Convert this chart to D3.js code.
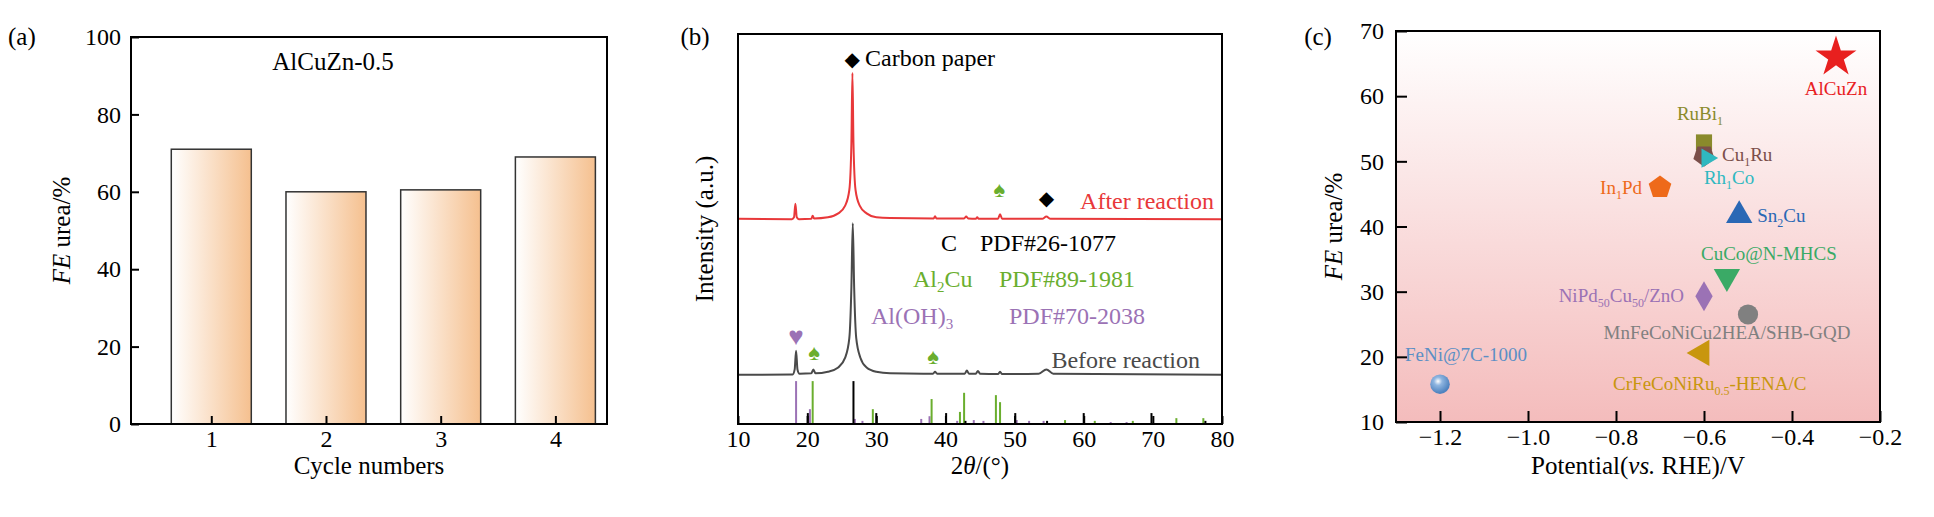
<!DOCTYPE html>
<html>
<head>
<meta charset="utf-8">
<script src="https://d3js.org/d3.v7.min.js"></script>
<style>
  body { margin: 0; background: #fff; }
  text { font-family: "Liberation Serif", "DejaVu Serif", serif; }
</style>
</head>
<body>
<svg width="1934" height="517"></svg>
<script>
// ---- panel (a) data
var cycles = [1, 2, 3, 4];
var cycleFE = [71, 60, 60.5, 69];

var afterReaction = [[10,52.6],[17.8,52.5],[18.1,53],[18.3,56.5],[18.5,53],[18.8,52.5],[20.6,52.6],[20.8,53.4],[21,52.7],[23,53],[24.5,54],[25.5,56],[26.1,60],[26.4,72],[26.55,90],[26.7,72],[27,60],[27.6,56],[28.6,54],[30,53],[32,52.8],[38.3,52.7],[38.5,53.3],[38.7,52.7],[42.7,52.7],[43,53.2],[43.3,52.7],[44.4,52.6],[44.6,53],[44.8,52.6],[47.6,52.6],[47.9,53.8],[48.2,52.6],[54,52.6],[54.6,53.2],[55.2,52.6],[80,52.5]];
var beforeReaction = [[10,12.6],[17.9,12.7],[18.2,14],[18.4,18.8],[18.6,14],[18.9,12.9],[20.6,13],[20.9,14],[21.2,13],[23,13.4],[24.5,14.5],[25.5,17],[26.1,22],[26.4,35],[26.6,51.5],[26.8,35],[27.1,22],[27.7,17],[28.6,14.5],[30,13.4],[32,13],[38.2,12.9],[38.5,13.4],[38.8,12.9],[42.8,12.9],[43.1,13.7],[43.4,12.9],[44.4,12.9],[44.7,13.6],[45,12.9],[47.6,12.8],[47.9,13.4],[48.2,12.8],[53.5,12.9],[54.6,14],[55.6,12.9],[80,12.6]];
// reference sticks [2theta, height]
var pdfC = [[20.1,2.8],[26.7,11],[30.0,2.8],[40.1,2.8],[42.9,0.8],[50.1,2.8],[54.7,0.8],[60.0,2.8],[69.8,2.8],[77.6,0.8]];
var pdfAl2Cu = [[20.8,11],[29.5,3.8],[38.0,6.4],[42.1,3.1],[42.7,8],[47.3,7.4],[47.9,5.6],[57.3,1],[61.6,0.8],[67.1,0.8],[73.4,1.5],[77.3,1.5]];
var pdfAlOH3 = [[18.4,11],[20.4,3.8],[26.9,1.3],[28.0,0.8],[36.5,1.3],[37.7,2],[41.7,0.8],[44.1,1],[45.5,0.8],[50.3,1],[52.1,0.8],[54.2,0.8],[63.9,0.5],[66.2,0.5]];

// ---- panel (c) data
var catalysts = ["AlCuZn","RuBi1","Cu1Ru","Rh1Co","In1Pd","Sn2Cu","CuCo@N-MHCS","NiPd50Cu50/ZnO","MnFeCoNiCu2HEA/SHB-GQD","CrFeCoNiRu0.5-HENA/C","FeNi@7C-1000"];
var potentials = [-0.30, -0.60, -0.60, -0.593, -0.70, -0.52, -0.548, -0.60, -0.50, -0.605, -1.20];
var feUrea = [66, 52.9, 50.9, 50.5, 46.0, 41.7, 32.3, 29.3, 26.5, 20.6, 15.8];

var svg = d3.select("svg");
var defs = svg.append("defs");
var FONT = 24;

function frame(g, x0, y0, x1, y1) {
  g.append("rect").attr("x", x0).attr("y", y0).attr("width", x1 - x0).attr("height", y1 - y0)
    .attr("fill", "none").attr("stroke", "#000").attr("stroke-width", 2);
}
function styleAxis(ax) {
  ax.selectAll("path").remove();
  ax.selectAll("line").attr("stroke", "#000").attr("stroke-width", 2);
  ax.selectAll("text").attr("font-size", FONT).attr("font-family", "Liberation Serif").attr("fill", "#000");
}

// ================= (a)
(function () {
  var L = 131, R = 607, T = 37, B = 424;
  var x = d3.scaleLinear().domain([0.3, 4.45]).range([L, R]);
  var y = d3.scaleLinear().domain([0, 100]).range([B, T]);
  var grad = defs.append("linearGradient").attr("id", "barGrad");
  grad.append("stop").attr("offset", "0%").attr("stop-color", "#ffffff");
  grad.append("stop").attr("offset", "100%").attr("stop-color", "#f5c08f");
  var g = svg.append("g");
  g.selectAll("rect.bar").data(cycles).enter().append("rect").attr("class", "bar")
    .attr("x", function (d) { return x(d) - 40; })
    .attr("width", 80)
    .attr("y", function (d, i) { return y(cycleFE[i]); })
    .attr("height", function (d, i) { return B - y(cycleFE[i]); })
    .attr("fill", "url(#barGrad)").attr("stroke", "#333").attr("stroke-width", 1.5);
  var ax = g.append("g").attr("transform", "translate(0," + B + ")")
    .call(d3.axisBottom(x).tickValues(cycles).tickFormat(d3.format("d")).tickSizeInner(-8).tickSizeOuter(0).tickPadding(6));
  styleAxis(ax);
  var ay = g.append("g").attr("transform", "translate(" + L + ",0)")
    .call(d3.axisLeft(y).tickValues([0, 20, 40, 60, 80, 100]).tickSizeInner(-8).tickSizeOuter(0).tickPadding(10));
  styleAxis(ay);
  frame(g, L, T, R, B);
  g.append("text").attr("x", 333).attr("y", 70).attr("text-anchor", "middle").attr("font-size", 25).text("AlCuZn-0.5");
  g.append("text").attr("x", 8).attr("y", 45).attr("font-size", 25).text("(a)");
  g.append("text").attr("x", (L + R) / 2).attr("y", 474).attr("text-anchor", "middle").attr("font-size", 25).text("Cycle numbers");
  var yl = g.append("text").attr("transform", "translate(70," + (T + B) / 2 + ") rotate(-90)")
    .attr("text-anchor", "middle").attr("font-size", 25);
  yl.append("tspan").attr("font-style", "italic").text("FE");
  yl.append("tspan").text(" urea/%");
})();

// ================= (b)
(function () {
  var L = 738, R = 1222, T = 34, B = 424;
  var x = d3.scaleLinear().domain([10, 80]).range([L, R]);
  var y = d3.scaleLinear().domain([0, 100]).range([B, T]);
  var g = svg.append("g");
  var line = d3.line().x(function (d) { return x(d[0]); }).y(function (d) { return y(d[1]); }).curve(d3.curveMonotoneX);
  g.append("path").datum(afterReaction).attr("d", line).attr("fill", "none").attr("stroke", "#e8383a").attr("stroke-width", 2);
  g.append("path").datum(beforeReaction).attr("d", line).attr("fill", "none").attr("stroke", "#4a4a4a").attr("stroke-width", 2);
  function sticks(data, color) {
    g.selectAll(null).data(data).enter().append("line")
      .attr("x1", function (d) { return x(d[0]); }).attr("x2", function (d) { return x(d[0]); })
      .attr("y1", y(0)).attr("y2", function (d) { return y(d[1]); })
      .attr("stroke", color).attr("stroke-width", 2);
  }
  sticks(pdfAlOH3, "#9b72b5");
  sticks(pdfAl2Cu, "#6aae2e");
  sticks(pdfC, "#000");
  var ax = g.append("g").attr("transform", "translate(0," + B + ")")
    .call(d3.axisBottom(x).tickValues(d3.range(10, 81, 10)).tickSizeInner(-8).tickSizeOuter(0).tickPadding(6));
  styleAxis(ax);
  frame(g, L, T, R, B);

  function mark(sym, px, py, color, size) {
    g.append("text").attr("x", px).attr("y", py).attr("text-anchor", "middle")
      .attr("font-family", "DejaVu Sans").attr("font-size", size).attr("fill", color).text(sym);
  }
  mark("\u25C6", x(26.5), 66, "#000", 20);
  g.append("text").attr("x", x(26.5) + 13).attr("y", 66).attr("font-size", 24).text("Carbon paper");
  mark("\u2660", x(47.8), 197, "#6aae2e", 22);
  mark("\u25C6", x(54.6), 205, "#000", 20);
  mark("\u2665", x(18.4), 345, "#9b72b5", 26);
  mark("\u2660", x(21), 360, "#6aae2e", 22);
  mark("\u2660", x(38.2), 364, "#6aae2e", 22);

  g.append("text").attr("x", 1214).attr("y", 209).attr("text-anchor", "end").attr("font-size", 24).attr("fill", "#e8383a").text("After reaction");
  g.append("text").attr("x", 1200).attr("y", 368).attr("text-anchor", "end").attr("font-size", 24).attr("fill", "#4a4a4a").text("Before reaction");

  g.append("text").attr("x", 941).attr("y", 251).attr("font-size", 24).text("C");
  g.append("text").attr("x", 980).attr("y", 251).attr("font-size", 24).text("PDF#26-1077");
  var t2 = g.append("text").attr("x", 913).attr("y", 287).attr("font-size", 24).attr("fill", "#6aae2e");
  t2.append("tspan").text("Al");
  t2.append("tspan").attr("font-size", 15).attr("dy", 5).text("2");
  t2.append("tspan").attr("dy", -5).text("Cu");
  g.append("text").attr("x", 999).attr("y", 287).attr("font-size", 24).attr("fill", "#6aae2e").text("PDF#89-1981");
  var t3 = g.append("text").attr("x", 871).attr("y", 324).attr("font-size", 24).attr("fill", "#9b72b5");
  t3.append("tspan").text("Al(OH)");
  t3.append("tspan").attr("font-size", 15).attr("dy", 5).text("3");
  g.append("text").attr("x", 1009).attr("y", 324).attr("font-size", 24).attr("fill", "#9b72b5").text("PDF#70-2038");

  g.append("text").attr("x", 695).attr("y", 45).attr("text-anchor", "middle").attr("font-size", 25).text("(b)");
  g.append("text").attr("transform", "translate(713," + (T + B) / 2 + ") rotate(-90)")
    .attr("text-anchor", "middle").attr("font-size", 25).text("Intensity (a.u.)");
  var xl = g.append("text").attr("x", (L + R) / 2).attr("y", 474).attr("text-anchor", "middle").attr("font-size", 25);
  xl.append("tspan").text("2");
  xl.append("tspan").attr("font-style", "italic").text("\u03B8");
  xl.append("tspan").text("/(\u00B0)");
})();

// ================= (c)
(function () {
  var L = 1396, R = 1880, T = 31, B = 422;
  var x = d3.scaleLinear().domain([-1.3, -0.2]).range([L, R]);
  var y = d3.scaleLinear().domain([10, 70]).range([B, T]);
  var grad = defs.append("linearGradient").attr("id", "bgGrad").attr("x1", 0).attr("y1", 0).attr("x2", 0).attr("y2", 1);
  grad.append("stop").attr("offset", "0%").attr("stop-color", "#ffffff");
  grad.append("stop").attr("offset", "100%").attr("stop-color", "#f4bcbc");
  var sph = defs.append("radialGradient").attr("id", "sphere").attr("cx", "40%").attr("cy", "35%").attr("r", "60%");
  sph.append("stop").attr("offset", "0%").attr("stop-color", "#ffffff");
  sph.append("stop").attr("offset", "35%").attr("stop-color", "#8fb5e0");
  sph.append("stop").attr("offset", "100%").attr("stop-color", "#4f83bf");
  var g = svg.append("g");
  g.append("rect").attr("x", L).attr("y", T).attr("width", R - L).attr("height", B - T).attr("fill", "url(#bgGrad)");

  var pentagon = { draw: function (ctx, size) {
    var r = Math.sqrt(size / 2.4);
    for (var k = 0; k < 5; k++) {
      var a = -Math.PI / 2 + k * 2 * Math.PI / 5;
      if (k === 0) ctx.moveTo(r * Math.cos(a), r * Math.sin(a)); else ctx.lineTo(r * Math.cos(a), r * Math.sin(a));
    }
    ctx.closePath();
  } };
  var styles = [
    { c: "#e8201f", t: d3.symbolStar, s: 520, r: 0 },
    { c: "#8a8a2c", t: d3.symbolSquare, s: 260, r: 0 },
    { c: "#7b4f4a", t: pentagon, s: 300, r: 180 },
    { c: "#2fb8c0", t: d3.symbolTriangle, s: 160, r: 90 },
    { c: "#ee6a1a", t: pentagon, s: 340, r: 0 },
    { c: "#2a68b5", t: d3.symbolTriangle, s: 300, r: 0 },
    { c: "#3aaa66", t: d3.symbolTriangle, s: 300, r: 180 },
    { c: "#9b72b5", t: d3.symbolDiamond, s: 260, r: 0 },
    { c: "#808080", t: d3.symbolCircle, s: 320, r: 0 },
    { c: "#c8960e", t: d3.symbolTriangle, s: 300, r: -90 },
    { c: "url(#sphere)", t: d3.symbolCircle, s: 300, r: 0 }
  ];
  var lblCol = ["#e8201f","#8a8a2c","#7b4f4a","#2fb8c0","#ee6a1a","#2a68b5","#3aaa66","#9b72b5","#808080","#c8960e","#5b8fc5"];
  var lbl = [
    { dx: 0, dy: 38, a: "middle", p: [["AlCuZn", 0]] },
    { dx: -4, dy: -22, a: "middle", p: [["RuBi", 0], ["1", 1]] },
    { dx: 18, dy: 6, a: "start", p: [["Cu", 0], ["1", 1], ["Ru", 0]] },
    { dx: 22, dy: 26, a: "middle", p: [["Rh", 0], ["1", 1], ["Co", 0]] },
    { dx: -18, dy: 7, a: "end", p: [["In", 0], ["1", 1], ["Pd", 0]] },
    { dx: 18, dy: 7, a: "start", p: [["Sn", 0], ["2", 1], ["Cu", 0]] },
    { dx: 42, dy: -17, a: "middle", p: [["CuCo@N-MHCS", 0]] },
    { dx: -20, dy: 6, a: "end", p: [["NiPd", 0], ["50", 1], ["Cu", 0], ["50", 1], ["/ZnO", 0]] },
    { dx: -21, dy: 25, a: "middle", p: [["MnFeCoNiCu2HEA/SHB-GQD", 0]] },
    { dx: 8, dy: 37, a: "middle", p: [["CrFeCoNiRu", 0], ["0.5", 1], ["-HENA/C", 0]] },
    { dx: 26, dy: -23, a: "middle", p: [["FeNi@7C-1000", 0]] }
  ];
  g.selectAll("path.pt").data(catalysts).enter().append("path").attr("class", "pt")
    .attr("d", function (d, i) { return d3.symbol().type(styles[i].t).size(styles[i].s)(); })
    .attr("transform", function (d, i) { return "translate(" + x(potentials[i]) + "," + y(feUrea[i]) + ") rotate(" + styles[i].r + ")"; })
    .attr("fill", function (d, i) { return styles[i].c; });
  catalysts.forEach(function (name, i) {
    var o = lbl[i];
    var t = g.append("text").attr("x", x(potentials[i]) + o.dx).attr("y", y(feUrea[i]) + o.dy)
      .attr("text-anchor", o.a).attr("font-size", 19).attr("fill", lblCol[i]);
    var sub = 0;
    o.p.forEach(function (p) {
      var dy = p[1] ? 5 - sub : (sub ? -5 : 0);
      sub = p[1] ? 5 : 0;
      t.append("tspan").attr("dy", dy).attr("font-size", p[1] ? 12 : 19).text(p[0]);
    });
  });

  var ax = g.append("g").attr("transform", "translate(0," + B + ")")
    .call(d3.axisBottom(x).tickValues([-1.2, -1.0, -0.8, -0.6, -0.4, -0.2]).tickFormat(function (d) { return d3.format(".1f")(d).replace("-", "\u2212"); }).tickSizeInner(-11).tickSizeOuter(0).tickPadding(6));
  styleAxis(ax);
  var ay = g.append("g").attr("transform", "translate(" + L + ",0)")
    .call(d3.axisLeft(y).tickValues([10, 20, 30, 40, 50, 60, 70]).tickSizeInner(-11).tickSizeOuter(0).tickPadding(12));
  styleAxis(ay);
  frame(g, L, T, R, B);
  g.append("text").attr("x", 1318).attr("y", 45).attr("text-anchor", "middle").attr("font-size", 25).text("(c)");
  var yl = g.append("text").attr("transform", "translate(1342," + (T + B) / 2 + ") rotate(-90)")
    .attr("text-anchor", "middle").attr("font-size", 25);
  yl.append("tspan").attr("font-style", "italic").text("FE");
  yl.append("tspan").text(" urea/%");
  var xl = g.append("text").attr("x", (L + R) / 2).attr("y", 474).attr("text-anchor", "middle").attr("font-size", 25);
  xl.append("tspan").text("Potential(");
  xl.append("tspan").attr("font-style", "italic").text("vs.");
  xl.append("tspan").text(" RHE)/V");
})();
</script>
</body>
</html>
